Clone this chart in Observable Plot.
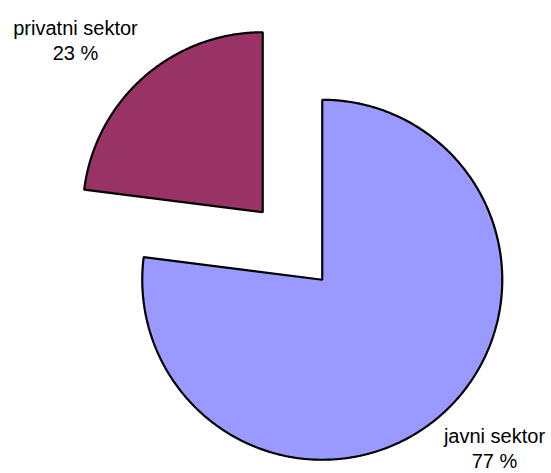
<!DOCTYPE html>
<html>
<head>
<meta charset="utf-8">
<script src="https://cdn.jsdelivr.net/npm/d3@7"></script>
<script src="https://cdn.jsdelivr.net/npm/@observablehq/plot@0.6"></script>
<style>
  html, body { margin: 0; padding: 0; background: #fff; }
  #chart { width: 551px; height: 473px; }
</style>
</head>
<body>
<div id="chart"></div>
<script>
// ---- data ----
const categories = ["javni sektor", "privatni sektor"];
const values = [77, 23];
const valueLabels = ["77 %", "23 %"];
const colors = ["#9999FF", "#993366"];

// ---- layout (pixels) ----
const W = 551, H = 473;
const R = 180;           // pie radius in px
const CX = 292, CY = 245.5; // pie center in px
const EXPLODE = 0.25;    // explode distance, in radii

// slice angles (clockwise from 12 o'clock)
const total = d3.sum(values);
let acc = 0;
const slices = categories.map((c, i) => {
  const a0 = acc / total * 2 * Math.PI;
  acc += values[i];
  const a1 = acc / total * 2 * Math.PI;
  return {category: c, a0, a1, mid: (a0 + a1) / 2, label: valueLabels[i]};
});

// polygon outline points in unit coords (y up)
const pts = [];
for (const s of slices) {
  const ox = EXPLODE * Math.sin(s.mid), oy = EXPLODE * Math.cos(s.mid);
  pts.push({category: s.category, x: ox, y: oy});
  const n = Math.max(2, Math.ceil((s.a1 - s.a0) / (Math.PI / 360)));
  for (let k = 0; k <= n; k++) {
    const a = s.a0 + (s.a1 - s.a0) * k / n;
    pts.push({category: s.category, x: ox + Math.sin(a), y: oy + Math.cos(a)});
  }
}

// label block centers (px) converted to units
const labelPx = {"javni sektor": [494, 447], "privatni sektor": [75, 39]};
const labels = slices.map(s => ({
  category: s.category,
  text: s.category + "\n" + s.label,
  x: (labelPx[s.category][0] - CX) / R,
  y: (CY - labelPx[s.category][1]) / R
}));

const chart = Plot.plot({
  width: W,
  height: H,
  margin: 0,
  x: {domain: [-CX / R, (W - CX) / R], range: [0, W], axis: null},
  y: {domain: [-(H - CY) / R, CY / R], range: [H, 0], axis: null},
  color: {domain: categories, range: colors},
  style: {fontFamily: "Liberation Sans, Arial, sans-serif", background: "#fff"},
  marks: [
    Plot.line(pts, {
      x: "x", y: "y", z: "category", fill: "category",
      stroke: "#000", strokeWidth: 2.2, curve: "linear-closed",
      strokeLinejoin: "miter"
    }),
    Plot.text(labels, {
      x: "x", y: "y", text: "text",
      fontSize: 20, lineHeight: 1.25, fill: "#000",
      textAnchor: "middle", lineAnchor: "middle"
    })
  ]
});
document.getElementById("chart").appendChild(chart);
</script>
</body>
</html>
